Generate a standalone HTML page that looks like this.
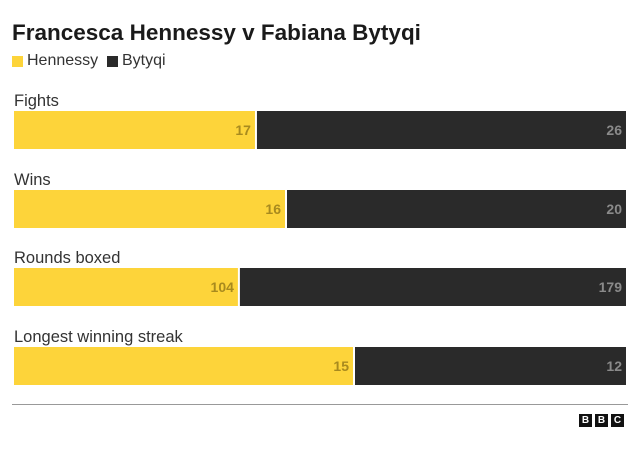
<!DOCTYPE html>
<html><head><meta charset="utf-8"><style>
body{margin:0;background:#fff;font-family:"Liberation Sans",sans-serif;}
#wrap{position:relative;width:640px;height:449px;overflow:hidden;}
.t{position:absolute;white-space:nowrap;}
</style></head><body>
<div id="wrap">
<div class="t" style="left:12px;top:20px;font-size:22.5px;font-weight:bold;color:#1a1a1a;letter-spacing:0px">Francesca Hennessy v Fabiana Bytyqi</div>
<div>
<div style="position:absolute;left:12px;top:56px;width:11px;height:11px;background:#fdd43a"></div>
<div class="t" style="left:27px;top:52px;font-size:16px;color:#333">Hennessy</div>
<div style="position:absolute;left:107px;top:56px;width:11px;height:11px;background:#2a2a2a"></div>
<div class="t" style="left:122px;top:52px;font-size:16px;color:#333">Bytyqi</div>
</div>
<svg id="svg" width="640" height="449" style="position:absolute;left:0;top:0"></svg>
<div style="position:absolute;left:12px;top:404px;width:616px;height:1px;background:#999"></div>
<div style="position:absolute;left:579px;top:414px;display:flex;gap:3px">
<span style="width:13px;height:13px;background:#111;color:#fff;font-size:10px;font-weight:bold;text-align:center;line-height:13px">B</span>
<span style="width:13px;height:13px;background:#111;color:#fff;font-size:10px;font-weight:bold;text-align:center;line-height:13px">B</span>
<span style="width:13px;height:13px;background:#111;color:#fff;font-size:10px;font-weight:bold;text-align:center;line-height:13px">C</span>
</div>
</div>
<script>
const categories=["Fights","Wins","Rounds boxed","Longest winning streak"];
const hennessy=[17,16,104,15];
const bytyqi=[26,20,179,12];
const svg=document.getElementById('svg');
const NS='http://www.w3.org/2000/svg';
const x0=14,W=612,barTop=[111,190,268,347],H=38;
function mk(tag,attrs){const e=document.createElementNS(NS,tag);for(const k in attrs)e.setAttribute(k,attrs[k]);svg.appendChild(e);return e;}
categories.forEach((c,i)=>{
  const y=barTop[i];
  const tot=hennessy[i]+bytyqi[i];
  const xs=x=>x0+W*x/tot;
  const split=xs(hennessy[i]);
  const lab=mk('text',{x:14,y:y-5,'font-size':16.5,fill:'#333','font-family':'Liberation Sans, sans-serif'});
  lab.textContent=c;
  
  
  const a=mk('rect',{x:x0,y:y,width:split-x0-1,height:H,fill:'#fdd43a'});
  
  
  const b=mk('rect',{x:split+1,y:y,width:x0+W-split-1,height:H,fill:'#2a2a2a'});
  
  
  const va=mk('text',{x:split-5,y:y+24,'text-anchor':'end','font-size':14,'font-weight':'bold',fill:'#a88a1e','font-family':'Liberation Sans, sans-serif'});
  va.textContent=hennessy[i];
  
  
  const vb=mk('text',{x:x0+W-4,y:y+24,'text-anchor':'end','font-size':14,'font-weight':'bold',fill:'#8a8a8a','font-family':'Liberation Sans, sans-serif'});
  vb.textContent=bytyqi[i];
  
  
});
</script>
</body></html>
